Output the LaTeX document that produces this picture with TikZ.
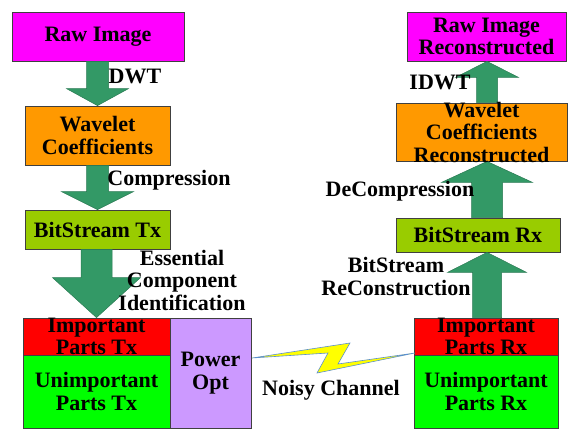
\documentclass[tikz,border=0pt]{standalone}
\usepackage{fontspec}
\setmainfont{Liberation Serif}
\usetikzlibrary{calc}
\definecolor{cmag}{HTML}{FF00FF}
\definecolor{corange}{HTML}{FF9900}
\definecolor{colive}{HTML}{99CC00}
\definecolor{cred}{HTML}{FF0000}
\definecolor{cgreen}{HTML}{00FF00}
\definecolor{clav}{HTML}{CC99FF}
\definecolor{carrow}{HTML}{339966}
\definecolor{cborder}{HTML}{404040}
\definecolor{cbolt}{HTML}{FFFF00}
\definecolor{cboltline}{HTML}{5B8FD0}
\newcommand{\blockarr}[5]{%
  \filldraw[arrowstyle] let \p1=(#1), \p2=(#2), \n1={sign(\y1-\y2)} in
    (\x2-#3pt,\y1) -- (\x2-#3pt,\y2+\n1*#5pt) -- (\x2-#4pt,\y2+\n1*#5pt) -- (\x2,\y2)
    -- (\x2+#4pt,\y2+\n1*#5pt) -- (\x2+#3pt,\y2+\n1*#5pt) -- (\x2+#3pt,\y1) -- cycle;}
\begin{document}
\begin{tikzpicture}[x=1pt,y=-1pt,
  font=\fontsize{22}{22.5}\selectfont\bfseries,
  box/.style={draw=cborder, line width=0.8pt, inner sep=0pt, align=center, text=black},
  lbl/.style={align=center, inner sep=0pt, text=black},
  arrowstyle/.style={fill=carrow, draw=carrow!80!black, line width=0.5pt}]
\useasboundingbox (0,0) rectangle (568,429);
% left column boxes
\node[box, fill=cmag, minimum width=172pt, minimum height=49pt] (raw) at (98,36.5) {Raw Image};
\node[box, fill=corange, minimum width=145pt, minimum height=59pt] (wav) at (97.5,135.5) {Wavelet\\Coefficients};
\node[box, fill=colive, minimum width=145pt, minimum height=39pt] (bstx) at (97.5,229.5) {BitStream Tx};
\node[box, fill=cred, minimum width=147pt, minimum height=37pt] (imptx) at (96.5,336.5) {};
\node[box, fill=cgreen, minimum width=147pt, minimum height=73pt] (unimptx) at (96.5,391.5) {Unimportant\\Parts Tx};
\node[box, fill=clav, minimum width=81pt, minimum height=110pt] (pow) at (210.5,373) {Power\\Opt};
% right column boxes
\node[box, fill=cmag, minimum width=159pt, minimum height=49pt] (rawrx) at (486.5,36.5) {Raw Image\\Reconstructed};
\node[box, fill=corange, minimum width=171pt, minimum height=58pt] (wavrx) at (481.5,132) {};
\node[box, fill=colive, minimum width=164pt, minimum height=34pt] (bsrx) at (478,235) {BitStream Rx};
\node[box, fill=cred, minimum width=144pt, minimum height=37pt] (imprx) at (486,336.5) {};
\node[box, fill=cgreen, minimum width=144pt, minimum height=73pt] (unimprx) at (486,391.5) {Unimportant\\Parts Rx};
% block arrows
\blockarr{raw.south}{wav.north}{11}{31}{17}
\blockarr{wav.south}{bstx.north}{11}{36}{18}
\blockarr{bstx.south}{imptx.north}{15.5}{44}{40}
\coordinate (ax) at (487,0);
\blockarr{imprx.north -| ax}{bsrx.south -| ax}{14.5}{39.5}{20}
\blockarr{bsrx.north -| ax}{wavrx.south -| ax}{15.5}{45.5}{21}
\blockarr{wavrx.north -| ax}{rawrx.south -| ax}{10.5}{31.5}{16}
% overflowing texts
\node[lbl] (imptxt) at (imptx.center) {Important\\Parts Tx};
\node[lbl] (imprxt) at (imprx.center) {Important\\Parts Rx};
\node[lbl] (wavrxt) at (wavrx.center) {Wavelet\\Coefficients\\Reconstructed};
% noisy channel bolt
\coordinate (boltL) at (252,358);
\coordinate (boltR) at (415,353);
\filldraw[fill=cbolt, draw=cboltline, line width=0.6pt]
  (boltL) -- (350,343) -- (338,364) -- (boltR) -- (317,373) -- (328,353) -- cycle;
% labels
\node[lbl] (ldwt) at (135,76) {DWT};
\node[lbl] (lcomp) at (169,180) {Compression};
\node[lbl] (less) at (182,280) {Essential\\Component\\Identification};
\node[lbl] (lidwt) at (440,82) {IDWT};
\node[lbl] (ldecomp) at (400,191) {DeCompression};
\node[lbl] (lbsrec) at (396,276.5) {BitStream\\ReConstruction};
\node[lbl] (lnoisy) at (331,390) {Noisy Channel};
\end{tikzpicture}
\end{document}
